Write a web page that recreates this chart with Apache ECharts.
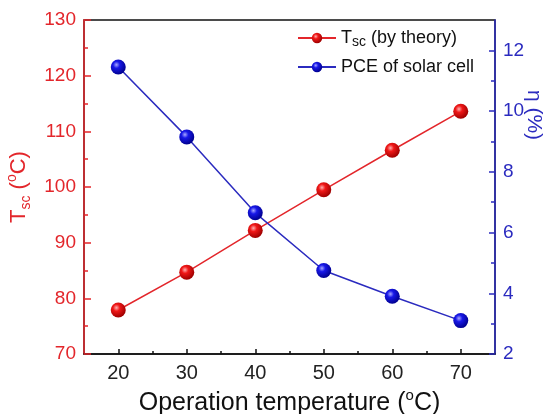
<!DOCTYPE html>
<html>
<head>
<meta charset="utf-8">
<script src="https://cdn.jsdelivr.net/npm/echarts@6/dist/echarts.min.js"></script>
<style>
  html, body { margin: 0; padding: 0; background: #fff; }
  #chart { width: 551px; height: 414px; }
</style>
</head>
<body>
<div id="chart"></div>
<script>
// Operating temperature of the cell (°C)
const temps = [20, 30, 40, 50, 60, 70];
// Theoretical solar-cell temperature Tsc (°C)
const tscTheory = [77.9, 84.7, 92.2, 99.5, 106.6, 113.6];
// Power conversion efficiency η (%)
const pce = [11.45, 9.15, 6.65, 4.75, 3.9, 3.1];

// Tick positions
const xTicks = [20, 30, 40, 50, 60, 70];
const xMinorTicks = [25, 35, 45, 55, 65];
const pceTicks = [2, 4, 6, 8, 10, 12];
const pceMinorTicks = [3, 5, 7, 9, 11];

const RED = '#e3262b';
const BLUE = '#2b2bbf';
const FONT = '"Liberation Sans", Arial, sans-serif';

function sphere(light, mid, dark) {
  return {
    type: 'radial', x: 0.38, y: 0.35, r: 0.65,
    colorStops: [
      { offset: 0, color: light },
      { offset: 0.35, color: mid },
      { offset: 1, color: dark }
    ]
  };
}

const chart = echarts.init(document.getElementById('chart'), null, { renderer: 'canvas' });

const baseTick = { show: true, inside: true };

chart.setOption({
  animation: false,
  backgroundColor: '#fff',
  textStyle: { fontFamily: FONT },
  grid: {
    left: 84, right: 56, top: 20, bottom: 60,
    outerBoundsMode: 'none',
    containLabel: false,
    show: true, borderColor: '#111', borderWidth: 1.5, backgroundColor: 'transparent'
  },
  legend: {
    orient: 'vertical',
    left: 297, top: 29,
    padding: 0,
    itemWidth: 38, itemHeight: 13, itemGap: 9,
    data: ['tsc', 'pce'],
    formatter: function (name) {
      return name === 'tsc'
        ? '{t|T}{s|sc}{t| (by theory)}'
        : '{t|PCE of solar cell}';
    },
    textStyle: {
      color: '#111', fontFamily: FONT, fontSize: 18,
      rich: {
        t: { fontSize: 18, lineHeight: 22, fontFamily: FONT, color: '#111' },
        s: { fontSize: 14, lineHeight: 14, verticalAlign: 'bottom', fontFamily: FONT, color: '#111' }
      }
    }
  },
  xAxis: [
    {
      type: 'value', min: 15, max: 75,
      name: '{t|Operation temperature (}{sup|o}{t|C)}',
      nameLocation: 'middle', nameGap: 29,
      nameTextStyle: {
        rich: {
          t: { fontSize: 25, lineHeight: 30, fontFamily: FONT, color: '#111' },
          sup: { fontSize: 15, lineHeight: 15, verticalAlign: 'top', fontFamily: FONT, color: '#111' }
        }
      },
      axisLine: { show: true, lineStyle: { color: '#111', width: 1.5 } },
      axisTick: Object.assign({}, baseTick, { length: 5, customValues: xTicks, lineStyle: { color: '#111', width: 1.5 } }),
      axisLabel: { customValues: xTicks, color: '#222', fontSize: 20, margin: 9, fontFamily: FONT },
      splitLine: { show: false }
    },
    {
      type: 'value', min: 15, max: 75, position: 'bottom',
      axisLine: { show: false },
      axisTick: Object.assign({}, baseTick, { length: 3, customValues: xMinorTicks, lineStyle: { color: '#111', width: 1.5 } }),
      axisLabel: { show: false },
      splitLine: { show: false }
    }
  ],
  yAxis: [
    {
      type: 'value', min: 70, max: 130, interval: 10, position: 'left',
      name: '{t|T}{s|sc}{t| (}{sup|o}{t|C)}',
      nameLocation: 'middle', nameGap: 46,
      nameTextStyle: {
        padding: [0, 0, 0, 0],
        rich: {
          t: { fontSize: 22, lineHeight: 28, fontFamily: FONT, color: RED },
          s: { fontSize: 14, lineHeight: 14, verticalAlign: 'bottom', fontFamily: FONT, color: RED },
          sup: { fontSize: 14, lineHeight: 14, verticalAlign: 'top', fontFamily: FONT, color: RED }
        }
      },
      axisLine: { show: true, lineStyle: { color: RED, width: 1.5 } },
      axisTick: Object.assign({}, baseTick, { length: 7, lineStyle: { color: RED, width: 1.5 } }),
      minorTick: { show: true, splitNumber: 2, length: 4, lineStyle: { color: RED, width: 1.5 } },
      axisLabel: { color: RED, fontSize: 19, margin: 8, fontFamily: FONT },
      splitLine: { show: false },
      minorSplitLine: { show: false }
    },
    {
      type: 'value', min: 2, max: 13, position: 'right',
      axisLine: { show: true, lineStyle: { color: BLUE, width: 1.5 } },
      axisTick: Object.assign({}, baseTick, { length: 6, customValues: pceTicks, lineStyle: { color: BLUE, width: 1.5 } }),
      axisLabel: { customValues: pceTicks, color: BLUE, fontSize: 19, margin: 8, fontFamily: FONT },
      splitLine: { show: false }
    },
    {
      type: 'value', min: 2, max: 13, position: 'right',
      axisLine: { show: false },
      axisTick: Object.assign({}, baseTick, { length: 4, customValues: pceMinorTicks, lineStyle: { color: BLUE, width: 1.5 } }),
      axisLabel: { show: false },
      splitLine: { show: false }
    }
  ],
  graphic: [
    {
      type: 'text',
      x: 534, y: 115,
      rotation: -Math.PI / 2,
      style: {
        text: 'η (%)',
        fill: BLUE,
        font: '21px ' + FONT,
        align: 'center',
        verticalAlign: 'middle'
      }
    }
  ],
  series: [
    {
      name: 'tsc',
      type: 'line',
      xAxisIndex: 0, yAxisIndex: 0,
      data: temps.map((t, i) => [t, tscTheory[i]]),
      symbol: 'circle', symbolSize: 15,
      lineStyle: { color: RED, width: 1.5 },
      itemStyle: { color: sphere('#ffb0b0', '#f01818', '#a00000'), borderWidth: 0 },
      z: 3
    },
    {
      name: 'pce',
      type: 'line',
      xAxisIndex: 0, yAxisIndex: 1,
      data: temps.map((t, i) => [t, pce[i]]),
      symbol: 'circle', symbolSize: 15,
      lineStyle: { color: BLUE, width: 1.5 },
      itemStyle: { color: sphere('#a8a8ff', '#1818e8', '#000090'), borderWidth: 0 },
      z: 4
    }
  ]
});
</script>
</body>
</html>
